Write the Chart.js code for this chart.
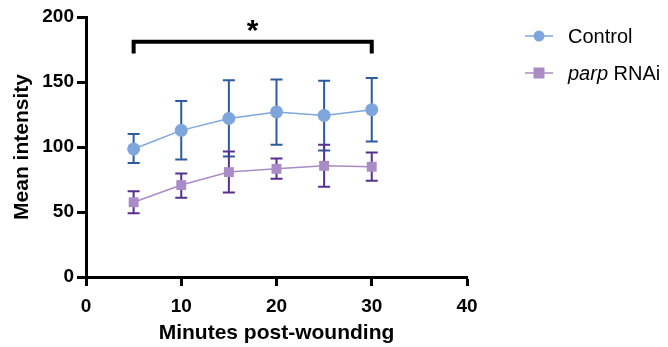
<!DOCTYPE html>
<html>
<head>
<meta charset="utf-8">
<script src="https://cdn.jsdelivr.net/npm/chart.js@4"></script>
<style>
  html, body { margin: 0; padding: 0; background: #fff; }
  #wrap { width: 668px; height: 347px; }
</style>
</head>
<body>
<div id="wrap"><canvas id="chart" width="668" height="347"></canvas></div>
<script>
// Data
const minutes = [5, 10, 15, 20, 25, 30];
const controlMean = [98.5, 112.8, 122, 127, 124.3, 128.7];
const controlUpper = [110, 135.4, 151.3, 152, 151, 153];
const controlLower = [87.6, 90.4, 92.7, 101.7, 97.3, 104.3];
const parpMean = [57.5, 70.7, 80.7, 83.2, 85.5, 84.8];
const parpUpper = [66, 79.6, 96.6, 91.2, 101.7, 95.8];
const parpLower = [49, 61, 65, 75.5, 69.4, 74];
const xTicks = [0, 10, 20, 30, 40];
const yTicks = [0, 50, 100, 150, 200];
const bracketFrom = 5, bracketTo = 30, bracketY = 181, bracketDrop = 9;

const FONT = '"Liberation Sans", Arial, sans-serif';
const ctrlLine = '#7FA6DC', ctrlErr = '#2E5A9E';
const parpLine = '#A98BC6', parpErr = '#57308F';

// Error bars, drawn under the markers
const errorBars = {
  id: 'errorBars',
  beforeDatasetsDraw(chart) {
    const { ctx, scales: { x, y } } = chart;
    const sets = [
      [controlUpper, controlLower, ctrlErr],
      [parpUpper, parpLower, parpErr]
    ];
    ctx.save();
    sets.forEach(([up, lo, col]) => {
      ctx.strokeStyle = col;
      ctx.lineWidth = 2;
      minutes.forEach((m, i) => {
        const px = x.getPixelForValue(m);
        const t = y.getPixelForValue(up[i]);
        const b = y.getPixelForValue(lo[i]);
        ctx.beginPath();
        ctx.moveTo(px, t); ctx.lineTo(px, b);
        ctx.moveTo(px - 6, t); ctx.lineTo(px + 6, t);
        ctx.moveTo(px - 6, b); ctx.lineTo(px + 6, b);
        ctx.stroke();
      });
    });
    ctx.restore();
  }
};

// Significance bracket, star and legend
const extras = {
  id: 'extras',
  afterDraw(chart) {
    const { ctx, scales: { x, y } } = chart;
    ctx.save();
    const x1 = x.getPixelForValue(bracketFrom), x2 = x.getPixelForValue(bracketTo);
    const by = y.getPixelForValue(bracketY), bd = y.getPixelForValue(bracketY - bracketDrop);
    ctx.strokeStyle = '#000';
    ctx.lineWidth = 4;
    ctx.lineJoin = 'miter';
    ctx.beginPath();
    ctx.moveTo(x1, bd); ctx.lineTo(x1, by); ctx.lineTo(x2, by); ctx.lineTo(x2, bd);
    ctx.stroke();
    ctx.fillStyle = '#000';
    ctx.font = 'bold 30px ' + FONT;
    ctx.textAlign = 'center';
    ctx.textBaseline = 'middle';
    ctx.fillText('*', (x1 + x2) / 2, by - 10);

    // legend
    const items = [
      { y: 36, col: ctrlLine, shape: 'circle' },
      { y: 73, col: parpLine, shape: 'square' }
    ];
    items.forEach(it => {
      ctx.strokeStyle = it.col;
      ctx.lineWidth = 1.5;
      ctx.beginPath();
      ctx.moveTo(525, it.y); ctx.lineTo(553, it.y);
      ctx.stroke();
      ctx.fillStyle = it.col;
      if (it.shape === 'circle') {
        ctx.beginPath(); ctx.arc(539, it.y, 5.5, 0, Math.PI * 2); ctx.fill();
      } else {
        ctx.fillRect(533.5, it.y - 5.5, 11, 11);
      }
    });
    ctx.fillStyle = '#000';
    ctx.textAlign = 'left';
    ctx.font = '20px ' + FONT;
    ctx.fillText('Control', 568, 37);
    ctx.font = 'italic 20px ' + FONT;
    ctx.fillText('parp', 568, 74);
    const w = ctx.measureText('parp ').width;
    ctx.font = '20px ' + FONT;
    ctx.fillText('RNAi', 568 + w, 74);
    ctx.restore();
  }
};

const axisCommon = {
  type: 'linear',
  grid: { display: true, drawOnChartArea: false, drawTicks: true, tickLength: 9, tickWidth: 3, tickColor: '#000' },
  border: { display: true, width: 3, color: '#000' },
  title: { display: true, color: '#000', font: { family: FONT, size: 21, weight: 'bold' } }
};

new Chart(document.getElementById('chart'), {
  type: 'line',
  data: {
    datasets: [
      {
        label: 'Control',
        data: minutes.map((m, i) => ({ x: m, y: controlMean[i] })),
        borderColor: ctrlLine, backgroundColor: ctrlLine,
        borderWidth: 1.5, pointStyle: 'circle', pointRadius: 6.5,
        pointBorderWidth: 0, tension: 0
      },
      {
        label: 'parp RNAi',
        data: minutes.map((m, i) => ({ x: m, y: parpMean[i] })),
        borderColor: parpLine, backgroundColor: parpLine,
        borderWidth: 1.5, pointStyle: 'rect', pointRadius: 7,
        pointBorderWidth: 0, tension: 0
      }
    ]
  },
  options: {
    responsive: false,
    animation: false,
    layout: { padding: { left: 0, right: 201, top: 17, bottom: 0 } },
    plugins: { legend: { display: false }, tooltip: { enabled: false } },
    scales: {
      x: {
        ...axisCommon,
        min: 0, max: 40,
        afterBuildTicks: s => { s.ticks = xTicks.map(v => ({ value: v })); },
        afterFit: s => { s.height = 70; },
        ticks: { color: '#000', padding: 9, font: { family: FONT, size: 19, weight: 'bold' } },
        title: { ...axisCommon.title, text: 'Minutes post-wounding', padding: { top: 0, bottom: 1 } }
      },
      y: {
        ...axisCommon,
        min: 0, max: 200,
        afterBuildTicks: s => { s.ticks = yTicks.map(v => ({ value: v })); },
        afterFit: s => { s.width = 86; },
        ticks: { color: '#000', padding: 3, font: { family: FONT, size: 19, weight: 'bold' } },
        title: { ...axisCommon.title, text: 'Mean intensity', padding: { top: 10, bottom: 0 } }
      }
    }
  },
  plugins: [errorBars, extras]
});
</script>
</body>
</html>
